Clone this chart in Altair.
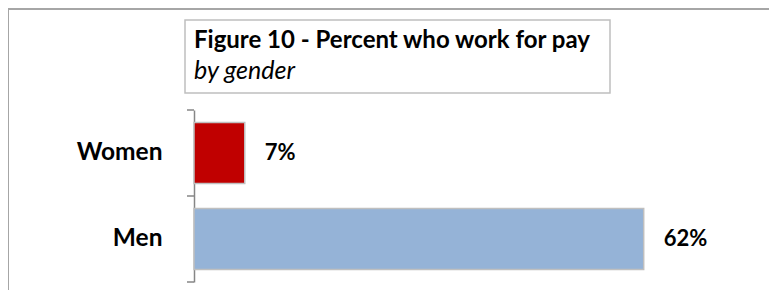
import altair as alt
import pandas as pd

categories = ["Women", "Men"]
values = [7, 62]
bar_colors = ["#C00000", "#95B3D7"]
title_text = "Figure 10 - Percent who work for pay"
subtitle_text = "by gender"

df = pd.DataFrame({"cat": categories, "val": values, "color": bar_colors})
df["label"] = [f"{v}%" for v in values]

one = pd.DataFrame({"k": [0]})
FONT = "Lato"
GREY = "#868686"

ysort = categories
yenc = alt.Y("cat:N", sort=ysort,
             scale=alt.Scale(paddingInner=0, paddingOuter=0),
             axis=alt.Axis(title=None, ticks=False, domain=True, domainColor=GREY,
                           domainWidth=1.5, labelPadding=32, labelFont=FONT,
                           labelFontSize=24.5, labelFontWeight="bold", labelColor="black"))
xenc = alt.X("val:Q", scale=alt.Scale(domain=[0, 75], nice=False), axis=None)

bars = alt.Chart(df).mark_bar(height={"band": 0.71}, stroke="#BFBFBF", strokeWidth=1.5).encode(
    x=xenc, y=yenc, color=alt.Color("color:N", scale=None))

labels = alt.Chart(df).mark_text(align="left", dx=20, font=FONT, fontSize=22,
                                 fontWeight="bold", color="black").encode(
    x=xenc, y=alt.Y("cat:N", sort=ysort), text="label:N")

ticks = alt.Chart(df).mark_rule(color=GREY, strokeWidth=1.5).encode(
    y=alt.Y("cat:N", sort=ysort, bandPosition=0), x=alt.value(-7), x2=alt.value(0))
end_tick = alt.Chart(df).transform_filter(alt.datum.cat == categories[-1]).mark_rule(
    color=GREY, strokeWidth=1.5).encode(
    y=alt.Y("cat:N", sort=ysort, bandPosition=1), x=alt.value(-7), x2=alt.value(0))

frame_left = alt.Chart(one).mark_rule(color="#A6A6A6", strokeWidth=2).encode(
    x=alt.value(-186), y=alt.value(-101), y2=alt.value(190))
frame_top = alt.Chart(one).mark_rule(color="#A6A6A6", strokeWidth=2).encode(
    x=alt.value(-186), x2=alt.value(600), y=alt.value(-101))

box = alt.Chart(one).mark_rect(fill="white", stroke="#BFBFBF", strokeWidth=1.5).encode(
    x=alt.value(-9), x2=alt.value(416), y=alt.value(-90), y2=alt.value(-17))
t1 = alt.Chart(one).mark_text(align="left", baseline="alphabetic", font=FONT, fontSize=24,
                              fontWeight="bold", color="black").encode(
    x=alt.value(0), y=alt.value(-62), text=alt.value(title_text))
t2 = alt.Chart(one).mark_text(align="left", baseline="alphabetic", font=FONT, fontSize=25,
                              fontStyle="italic", color="black").encode(
    x=alt.value(0), y=alt.value(-31), text=alt.value(subtitle_text))

chart = alt.layer(frame_left, frame_top, box, t1, t2, bars, labels, ticks, end_tick).properties(
    width=544, height=172, autosize="none",
    padding={"left": 186, "top": 102, "right": 31, "bottom": 8}
).configure_view(stroke=None)

chart.save("out.html", embed_options={"renderer": "svg", "actions": False})
